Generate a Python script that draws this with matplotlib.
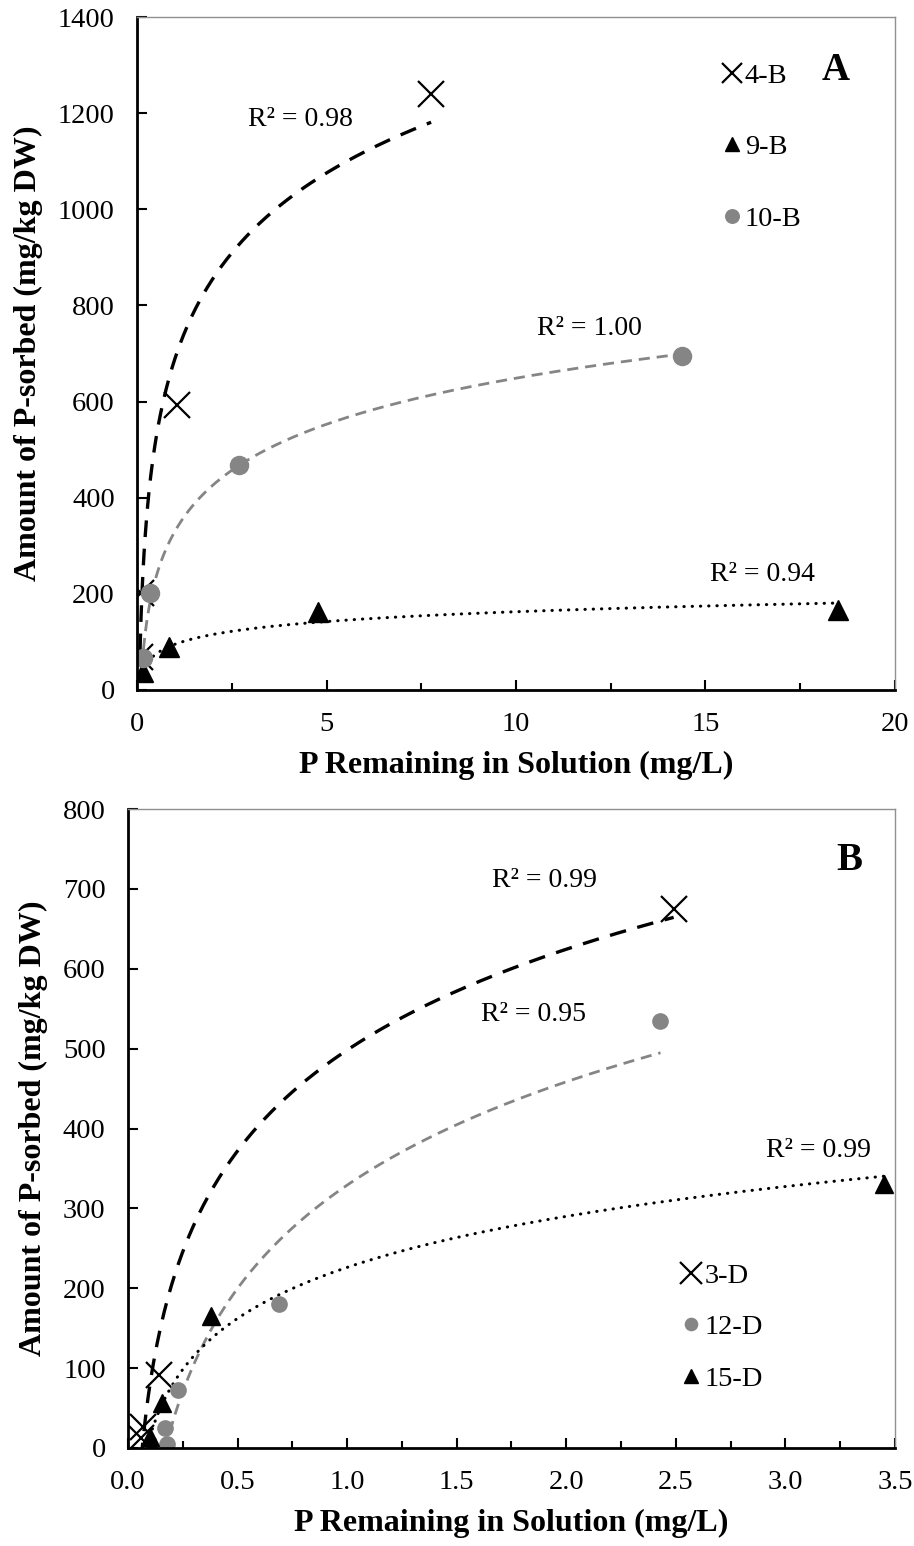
import numpy as np
import matplotlib.pyplot as plt

plt.rcParams['font.family'] = ['Liberation Serif', 'DejaVu Serif']

# Panel A data
xA_4B = [0.08, 0.10, 1.06, 7.76]
yA_4B = [68, 202, 593, 1240]
xA_9B = [0.17, 0.84, 4.78, 18.5]
yA_9B = [37, 90, 162, 166]
xA_10B = [0.17, 0.34, 2.69, 14.38]
yA_10B = [67, 202, 468, 695]
r2_A = ['R² = 0.98', 'R² = 0.94', 'R² = 1.00']

# Panel B data
xB_3D = [0.06, 0.07, 0.14, 2.49]
yB_3D = [12, 26, 91, 675]
xB_12D = [0.18, 0.17, 0.23, 0.69, 2.43]
yB_12D = [5, 25, 72, 180, 535]
xB_15D = [0.11, 0.10, 0.155, 0.38, 3.45]
yB_15D = [3, 14, 56, 165, 330]
r2_B = ['R² = 0.99', 'R² = 0.95', 'R² = 0.99']

GREY = '#858585'
FS = 20.5
LFS = 23
RFS = 20


def logfit(ax, x, y, **kw):
    x = np.array(x, dtype=float)
    y = np.array(y, dtype=float)
    a, b = np.polyfit(np.log(x), y, 1)
    xs = np.linspace(x.min(), x.max(), 300)
    ax.plot(xs, a * np.log(xs) + b, **kw)


def style(ax):
    for s in ['top', 'right']:
        ax.spines[s].set_color('#909090')
        ax.spines[s].set_linewidth(1.0)
    for s in ['left', 'bottom']:
        ax.spines[s].set_color('black')
        ax.spines[s].set_linewidth(2.0)
    ax.tick_params(which='both', direction='in', top=False, right=False,
                   labelsize=FS, width=1.5, color='black')
    ax.tick_params(which='major', length=7, pad=16)
    ax.tick_params(which='minor', length=5)
    ax.set_xlabel('P Remaining in Solution (mg/L)', fontsize=LFS, fontweight='bold', labelpad=10)
    ax.set_ylabel('Amount of P-sorbed (mg/kg DW)', fontsize=LFS, fontweight='bold', labelpad=11)


fig = plt.figure(figsize=(9.14, 15.46), dpi=100)

# ---- Panel A
axA = fig.add_axes([0.1499, 0.5537, 0.8293, 0.4353])
logfit(axA, xA_4B, yA_4B, color='black', lw=2.4, ls=(0, (5, 3.5)))
logfit(axA, xA_10B, yA_10B, color=GREY, lw=2.0, ls=(0, (4, 2.5)))
logfit(axA, xA_9B, yA_9B, color='black', lw=2.2, ls=(0, (0.1, 2.6)), dash_capstyle='round')
axA.plot(xA_4B, yA_4B, 'x', color='black', ms=19, mew=1.6, ls='none', label='4-B')
axA.plot(xA_9B, yA_9B, '^', color='black', ms=14, ls='none', label='9-B')
axA.plot(xA_10B, yA_10B, 'o', color=GREY, ms=13, ls='none', label='10-B')
axA.set_xlim(0, 20)
axA.set_ylim(0, 1400)
axA.set_xticks(np.arange(0, 21, 5))
axA.set_xticks(np.arange(0, 20.1, 2.5), minor=True)
axA.set_yticks(np.arange(0, 1401, 200))
style(axA)
axA.text(4.3, 1186, r2_A[0], fontsize=RFS, ha='center', va='center')
axA.text(11.95, 752, r2_A[2], fontsize=RFS, ha='center', va='center')
axA.text(16.5, 240, r2_A[1], fontsize=RFS, ha='center', va='center')
axA.text(0.922, 0.92, 'A', transform=axA.transAxes, fontsize=28, fontweight='bold', ha='center', va='center')
axA.legend(loc='upper left', bbox_to_anchor=(0.74, 0.97), frameon=False, fontsize=FS,
           markerscale=0.75, handlelength=0.6, handletextpad=0.15, labelspacing=1.6)

# ---- Panel B
axB = fig.add_axes([0.14, 0.0634, 0.8392, 0.4133])
logfit(axB, xB_3D, yB_3D, color='black', lw=2.4, ls=(0, (5, 3.5)))
logfit(axB, xB_12D, yB_12D, color=GREY, lw=2.0, ls=(0, (4, 2.5)))
logfit(axB, xB_15D, yB_15D, color='black', lw=2.2, ls=(0, (0.1, 2.6)), dash_capstyle='round')
axB.plot(xB_3D, yB_3D, 'x', color='black', ms=19, mew=1.6, ls='none', label='3-D')
axB.plot(xB_12D, yB_12D, 'o', color=GREY, ms=11, ls='none', label='12-D')
axB.plot(xB_15D, yB_15D, '^', color='black', ms=13, ls='none', label='15-D')
axB.set_xlim(0, 3.5)
axB.set_ylim(0, 800)
axB.set_xticks(np.arange(0, 3.51, 0.5))
axB.set_xticks(np.arange(0, 3.51, 0.25), minor=True)
axB.xaxis.set_major_formatter(plt.FormatStrFormatter('%.1f'))
axB.set_yticks(np.arange(0, 801, 100))
style(axB)
axB.text(1.9, 710, r2_B[0], fontsize=RFS, ha='center', va='center')
axB.text(1.85, 543, r2_B[1], fontsize=RFS, ha='center', va='center')
axB.text(3.15, 373, r2_B[2], fontsize=RFS, ha='center', va='center')
axB.text(0.94, 0.92, 'B', transform=axB.transAxes, fontsize=28, fontweight='bold', ha='center', va='center')
axB.legend(loc='upper left', bbox_to_anchor=(0.69, 0.33), frameon=False, fontsize=FS,
           markerscale=0.8, handlelength=0.6, handletextpad=0.15, labelspacing=0.9)

fig.savefig('out.png', dpi=100)
